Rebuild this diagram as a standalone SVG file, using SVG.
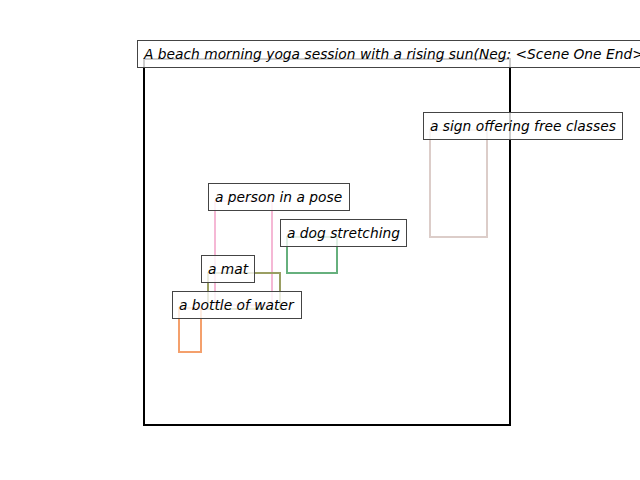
<svg xmlns="http://www.w3.org/2000/svg" width="640" height="480" viewBox="0 0 640 480">
<style>
.lbl rect{fill:#fff;fill-opacity:0.8;stroke:#444;stroke-width:1}
.lbl text{font-family:"DejaVu Sans",sans-serif;font-style:italic;font-size:13.8px;fill:#000}
.box{fill:none;stroke-width:2}
</style>
<rect width="640" height="480" fill="#fff"/>
<rect id="frame" x="144" y="59" width="366" height="366" fill="none" stroke="#000" stroke-width="2"/>
<g id="boxes">
<rect id="box-sign" class="box" x="430" y="130" width="57" height="107" stroke="#dccdc9"/>
<rect id="box-person" class="box" x="215" y="201" width="57" height="104" stroke="#f5b8d5"/>
<rect id="box-dog" class="box" x="287" y="237" width="50" height="36" stroke="#66b07d"/>
<rect id="box-mat" class="box" x="208" y="273" width="72" height="36" stroke="#9a9e62"/>
<rect id="box-bottle" class="box" x="179" y="308" width="22" height="44" stroke="#f4a06c"/>
</g>
<g id="title" class="lbl"><rect x="137.5" y="40.5" width="520" height="27"/><text x="144" y="58.5">A beach morning yoga session with a rising sun(Neg: &lt;Scene One End&gt;</text></g>
<g id="sign" class="lbl"><rect x="423.5" y="112.5" width="199" height="27"/><text x="430" y="130.5">a sign offering free classes</text></g>
<g id="person" class="lbl"><rect x="208.5" y="183.5" width="141" height="27"/><text x="215" y="201.5">a person in a pose</text></g>
<g id="dog" class="lbl"><rect x="280.5" y="219.5" width="126" height="27"/><text x="287" y="237.5">a dog stretching</text></g>
<g id="mat" class="lbl"><rect x="201.5" y="255.5" width="53" height="27"/><text x="208" y="273.5">a mat</text></g>
<g id="bottle" class="lbl"><rect x="172.5" y="291.5" width="129" height="27"/><text x="179" y="309.5">a bottle of water</text></g>
</svg>
